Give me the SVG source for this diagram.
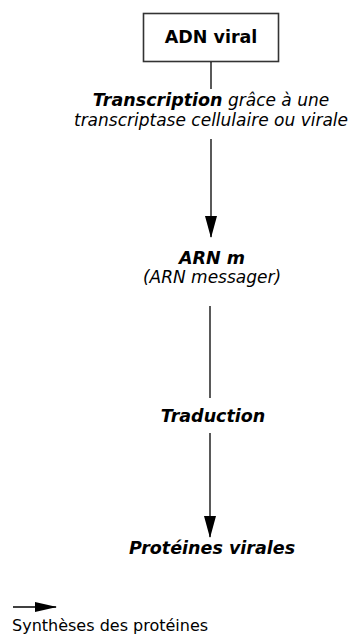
<svg xmlns="http://www.w3.org/2000/svg" width="359" height="634" viewBox="0 0 359 634">
<style>
.t{font-family:"DejaVu Sans","Liberation Sans",sans-serif;fill:#000;text-anchor:middle}
.bi{font-weight:bold;font-style:italic;font-size:17.5px}
.i{font-style:italic;font-size:17px}
.b{font-weight:bold;font-size:17.5px}
.ln{stroke:#000;stroke-width:1.3;fill:none}
</style>
<defs>
<marker id="ahv" viewBox="0 0 22 12" refX="21" refY="6" markerWidth="22" markerHeight="12" markerUnits="userSpaceOnUse" orient="auto">
<path d="M0,0 L22,6 L0,12 Z" fill="#000"/>
</marker>
<marker id="ahh" viewBox="0 0 22 10" refX="21" refY="5" markerWidth="22" markerHeight="10" markerUnits="userSpaceOnUse" orient="auto">
<path d="M0,0 L22,5 L0,10 Z" fill="#000"/>
</marker>
</defs>
<g id="adn">
<rect x="143.5" y="13.5" width="135" height="48" fill="#fff" stroke="#333" stroke-width="1.6"/>
<text class="t b" x="211" y="43">ADN viral</text>
</g>
<g id="transcription">
<text class="t" x="211" y="106"><tspan class="bi">Transcription</tspan><tspan class="i"> grâce à une</tspan></text>
<text class="t i" x="211" y="126">transcriptase cellulaire ou virale</text>
</g>
<g id="arnm">
<text class="t bi" x="212" y="264">ARN m</text>
<text class="t i" x="212" y="283">(ARN messager)</text>
</g>
<g id="traduction">
<text class="t bi" x="213" y="422">Traduction</text>
</g>
<g id="proteines">
<text class="t bi" x="212" y="554">Protéines virales</text>
</g>
<g id="legend">
<text x="12" y="631" font-family="DejaVu Sans,sans-serif" font-size="16">Synthèses des protéines</text>
</g>
<g id="connectors">
<line class="ln" x1="211" y1="62" x2="211" y2="89"/>
<line class="ln" x1="211" y1="139" x2="211" y2="237" marker-end="url(#ahv)"/>
<line class="ln" x1="210" y1="306" x2="210" y2="398"/>
<line class="ln" x1="210" y1="433" x2="210" y2="537" marker-end="url(#ahv)"/>
<line class="ln" x1="13" y1="607" x2="56" y2="607" marker-end="url(#ahh)"/>
</g>
</svg>
